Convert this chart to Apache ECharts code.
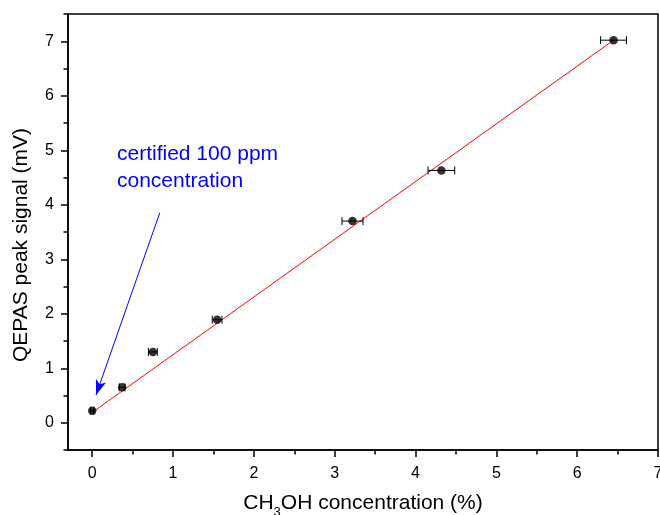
<!DOCTYPE html>
<html>
<head>
<meta charset="utf-8">
<script src="https://cdn.jsdelivr.net/npm/echarts@6/dist/echarts.min.js"></script>
<style>html,body{margin:0;padding:0;background:#fff}#c{width:660px;height:515px}</style>
</head>
<body>
<div id="c"></div>
<script>
// ---- data ----
const concX = [0, 0.37, 0.75, 1.545, 3.22, 4.32, 6.45];
const signalY = [0.22, 0.65, 1.30, 1.89, 3.70, 4.63, 7.02];
const concErr = [0.02, 0.035, 0.055, 0.06, 0.13, 0.165, 0.16];
const fitX = [0, 6.45];
const fitY = [0.19, 7.02];
const xTicks = [0, 1, 2, 3, 4, 5, 6, 7];
const xMinorTicks = [0.5, 1.5, 2.5, 3.5, 4.5, 5.5, 6.5];
const yTicks = [0, 1, 2, 3, 4, 5, 6, 7];
const yMinorTicks = [-0.5, 0.5, 1.5, 2.5, 3.5, 4.5, 5.5, 6.5, 7.5];
const arrowFrom = [0.835, 3.85];
const arrowTo = [0.047, 0.51];
const noteLines = ['certified 100 ppm', 'concentration'];

const font = 'Liberation Sans, Arial, sans-serif';
const chart = echarts.init(document.getElementById('c'), null, {renderer: 'canvas'});

const points = concX.map((x, i) => [x, signalY[i]]);
const errData = concX.map((x, i) => [x, signalY[i], concErr[i]]);
const fitData = fitX.map((x, i) => [x, fitY[i]]);

const baseX = {min: -0.3, max: 7, type: 'value', gridIndex: 0, splitLine: {show: false}};
const baseY = {min: -0.5, max: 7.5, type: 'value', gridIndex: 0, splitLine: {show: false}};

chart.setOption({
  animation: false,
  backgroundColor: '#fff',
  grid: {left: 68, right: 2, top: 14, bottom: 65, show: true, borderColor: '#000', borderWidth: 1.5,
         backgroundColor: 'transparent', outerBoundsMode: 'none', containLabel: false},
  xAxis: [
    Object.assign({}, baseX, {
      position: 'bottom',
      axisLine: {show: true, onZero: false, lineStyle: {color: '#000', width: 1.5}},
      axisTick: {show: true, inside: false, length: 7, lineStyle: {color: '#000', width: 1.5}, customValues: xTicks},
      axisLabel: {show: true, customValues: xTicks, margin: 16, color: '#000', fontSize: 16, fontFamily: font},
      name: '{a|CH}{s|3}{a|OH concentration (%)}',
      nameLocation: 'middle',
      nameGap: 43,
      nameTextStyle: {
        rich: {
          a: {fontSize: 21, fontFamily: font, color: '#000', lineHeight: 24, verticalAlign: 'top'},
          s: {fontSize: 13, fontFamily: font, color: '#000', lineHeight: 13, verticalAlign: 'top', padding: [13, 0, 0, 0]}
        }
      }
    }),
    Object.assign({}, baseX, {
      position: 'bottom', offset: 0,
      axisLine: {show: false, onZero: false},
      axisTick: {show: true, inside: false, length: 4.5, lineStyle: {color: '#000', width: 1.5}, customValues: xMinorTicks},
      axisLabel: {show: false}
    })
  ],
  yAxis: [
    Object.assign({}, baseY, {
      position: 'left',
      axisLine: {show: true, onZero: false, lineStyle: {color: '#000', width: 1.5}},
      axisTick: {show: true, inside: false, length: 7, lineStyle: {color: '#000', width: 1.5}, customValues: yTicks},
      axisLabel: {show: true, customValues: yTicks, margin: 14, color: '#000', fontSize: 16, fontFamily: font},
      name: 'QEPAS peak signal (mV)',
      nameLocation: 'middle',
      nameGap: 36,
      nameTextStyle: {fontSize: 21, fontFamily: font, color: '#000', padding: [0, 26, 0, 0]}
    }),
    Object.assign({}, baseY, {
      position: 'left', offset: 0,
      axisLine: {show: false, onZero: false},
      axisTick: {show: true, inside: false, length: 4.5, lineStyle: {color: '#000', width: 1.5}, customValues: yMinorTicks},
      axisLabel: {show: false}
    })
  ],
  graphic: [{
    type: 'text', left: 117, top: 141, z: 10,
    style: {text: noteLines.join('\n'), fill: '#0000ff', font: '21px ' + font, lineHeight: 27}
  }],
  series: [
    {
      type: 'line', data: fitData, xAxisIndex: 0, yAxisIndex: 0,
      showSymbol: false, symbol: 'none',
      lineStyle: {color: '#ff0000', width: 1}, z: 3,
      markLine: {
        silent: true, animation: false,
        lineStyle: {color: '#0000ff', width: 1, type: 'solid'},
        label: {show: false},
        data: [[
          {coord: arrowFrom, symbol: 'none'},
          {coord: arrowTo, symbol: 'arrow', symbolSize: [8, 15]}
        ]]
      }
    },
    {
      type: 'custom', data: errData, xAxisIndex: 0, yAxisIndex: 0, z: 4,
      renderItem: function (params, api) {
        const x = api.value(0), y = api.value(1), e = api.value(2);
        const l = api.coord([x - e, y]);
        const r = api.coord([x + e, y]);
        const h = 4;
        const st = {stroke: '#000', lineWidth: 1};
        return {type: 'group', children: [
          {type: 'line', shape: {x1: l[0], y1: l[1], x2: r[0], y2: r[1]}, style: st},
          {type: 'line', shape: {x1: l[0], y1: l[1] - h, x2: l[0], y2: l[1] + h}, style: st},
          {type: 'line', shape: {x1: r[0], y1: r[1] - h, x2: r[0], y2: r[1] + h}, style: st}
        ]};
      }
    },
    {
      type: 'scatter', data: points, xAxisIndex: 0, yAxisIndex: 0,
      symbol: 'circle', symbolSize: 8.5, itemStyle: {color: '#000'}, z: 5
    }
  ]
});
</script>
</body>
</html>
